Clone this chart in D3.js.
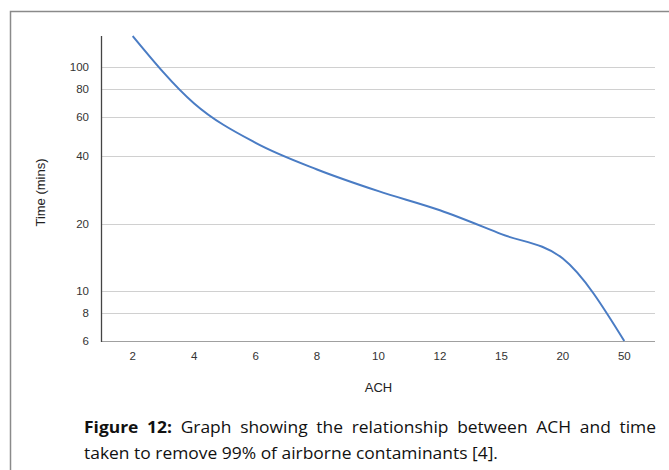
<!DOCTYPE html>
<html>
<head>
<meta charset="utf-8">
<script src="https://cdn.jsdelivr.net/npm/d3@7"></script>
<style>
  html, body { margin: 0; padding: 0; background: #fff; }
  svg { display: block; }
</style>
</head>
<body>
<svg id="chart" width="669" height="470"></svg>
<script>
// ACH vs minutes to remove 99% of airborne contaminants
const achLabels = ["2", "4", "6", "8", "10", "12", "15", "20", "50"];
const timeMins = [138, 69, 46, 35, 28, 23, 18, 14, 6];
const yTicks = [6, 8, 10, 20, 40, 60, 80, 100];
const captionBold = "Figure 12:";
const captionLine1 = "Graph showing the relationship between ACH and time";
const captionLine2 = "taken to remove 99% of airborne contaminants [4].";

const svg = d3.select("#chart");
const margin = { top: 36, right: 14, bottom: 129, left: 102 };
const W = 669, H = 470;
const innerW = W - margin.left - margin.right;
const innerH = H - margin.top - margin.bottom;
const axisFont = "Liberation Sans, Arial, sans-serif";

// figure frame (cut off right and bottom)
svg.append("path")
  .attr("d", "M10.5,470 V11.5 H669")
  .attr("fill", "none")
  .attr("stroke", "#8a8a8a")
  .attr("stroke-width", 1.5);

const g = svg.append("g").attr("transform", `translate(${margin.left},${margin.top})`);

const x = d3.scalePoint().domain(achLabels).range([0, innerW]).padding(0.5);
const y = d3.scaleLog().domain([6, 138]).range([innerH, 0]);

// gridlines
g.append("g")
  .selectAll("line")
  .data(yTicks.filter(d => d !== 6))
  .join("line")
  .attr("x1", 0)
  .attr("x2", innerW)
  .attr("y1", d => Math.round(y(d)) + 0.5)
  .attr("y2", d => Math.round(y(d)) + 0.5)
  .attr("stroke", "#d0d0d0")
  .attr("stroke-width", 1);

// y labels
g.append("g")
  .selectAll("text")
  .data(yTicks)
  .join("text")
  .attr("x", -13)
  .attr("y", d => y(d))
  .attr("dy", "0.35em")
  .attr("text-anchor", "end")
  .attr("font-family", axisFont)
  .attr("font-size", 11.5)
  .attr("fill", "#333")
  .text(d => d);

// x labels
g.append("g")
  .selectAll("text")
  .data(achLabels)
  .join("text")
  .attr("x", d => x(d))
  .attr("y", innerH + 15)
  .attr("dy", "0.35em")
  .attr("text-anchor", "middle")
  .attr("font-family", axisFont)
  .attr("font-size", 11.5)
  .attr("fill", "#333")
  .text(d => d);

// baseline + y axis line
g.append("line")
  .attr("x1", 0).attr("x2", innerW)
  .attr("y1", innerH + 0.5).attr("y2", innerH + 0.5)
  .attr("stroke", "#a0a0a0");
g.append("line")
  .attr("x1", -0.5).attr("x2", -0.5)
  .attr("y1", 0).attr("y2", innerH + 1)
  .attr("stroke", "#444")
  .attr("stroke-width", 1.3);

// the curve
const line = d3.line()
  .x((d, i) => x(achLabels[i]))
  .y(d => y(d))
  .curve(d3.curveMonotoneX);

g.append("path")
  .datum(timeMins)
  .attr("d", line)
  .attr("fill", "none")
  .attr("stroke", "#4a7cc4")
  .attr("stroke-width", 2);

// axis titles
svg.append("text")
  .attr("transform", `translate(45,${margin.top + innerH / 2 + 4}) rotate(-90)`)
  .attr("text-anchor", "middle")
  .attr("font-family", axisFont)
  .attr("font-size", 13)
  .attr("fill", "#222")
  .text("Time (mins)");

svg.append("text")
  .attr("x", margin.left + innerW / 2)
  .attr("y", 387)
  .attr("dy", "0.35em")
  .attr("text-anchor", "middle")
  .attr("font-family", axisFont)
  .attr("font-size", 13)
  .attr("fill", "#222")
  .text("ACH");

// caption: slightly stretched, first line justified by word spacing
const capX = 84, capW = 572, stretch = 1.09;
const cap = svg.append("g")
  .attr("transform", `translate(${capX},0) scale(${stretch},1)`)
  .attr("font-family", "Open Sans, Noto Sans, sans-serif")
  .attr("font-size", 16)
  .attr("fill", "#111");

const l1 = cap.append("text").attr("x", 0).attr("y", 433);
l1.append("tspan").attr("font-weight", "bold").text(captionBold);
l1.append("tspan").text(" " + captionLine1);
const natural = l1.node().getComputedTextLength();
const gaps = (captionBold + " " + captionLine1).split(" ").length - 1;
l1.attr("word-spacing", (capW / stretch - natural) / gaps);

cap.append("text")
  .attr("x", 0)
  .attr("y", 459)
  .text(captionLine2);
</script>
</body>
</html>
